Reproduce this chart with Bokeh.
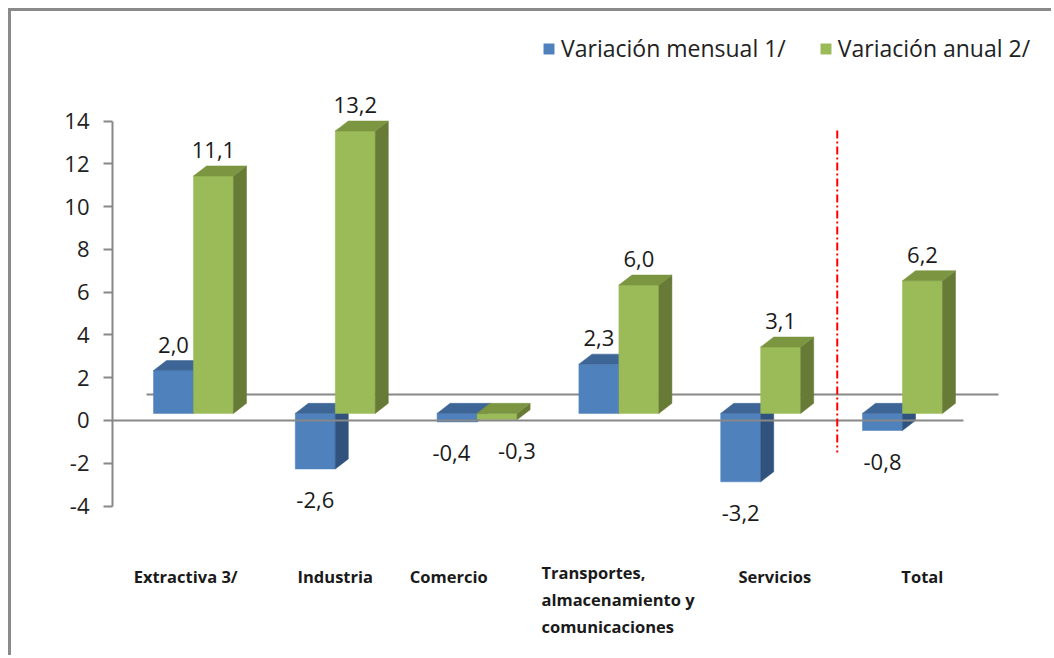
from bokeh.plotting import figure
from bokeh.models import Range1d, FixedTicker, Legend, LegendItem
from bokeh.embed import file_html
from bokeh.resources import INLINE
from bokeh.core.properties import value

# ---------------- data ----------------
categories = ["Extractiva  3/", "Industria", "Comercio",
              "Transportes,\nalmacenamiento y\ncomunicaciones", "Servicios", "Total"]
mensual = [2.0, -2.6, -0.4, 2.3, -3.2, -0.8]
anual = [11.1, 13.2, -0.3, 6.0, 3.1, 6.2]
series_names = ["Variación mensual 1/", "Variación anual 2/"]
y_ticks = [-4, -2, 0, 2, 4, 6, 8, 10, 12, 14]

# ---------------- style ----------------
FONT = "Open Sans"
BLUE_FRONT, BLUE_TOP, BLUE_SIDE = "#4F81BD", "#3D6596", "#31527C"
GREEN_FRONT, GREEN_TOP, GREEN_SIDE = "#9BBB59", "#7B9541", "#677B37"
AXIS_GRAY = "#888888"
BAR_W = 0.282       # category units
DX = 0.092          # 3D depth, x (category units)
DY = 0.47           # 3D depth, y (value units)
BASE = 0.33         # front face baseline (value units)
LABEL_UP = 1.22
LABEL_DOWN = 1.45
MENSUAL_LBL_DX = [0, 0, -0.04, 0, 0, 0]
ANUAL_LBL_DX = [0, 0, 0.14, 0, 0, 0]
CAT_SHIFT = [-0.04, 0.0, -0.2, -0.546, 0.1, 0.14]
CAT_LABEL_Y = -6.75
MULTI_LABEL_Y = -6.56

W, H = 1043, 647
p = figure(width=W, height=H, output_backend="svg", toolbar_location=None,
           x_range=Range1d(-0.571, 6.072), y_range=Range1d(-11.13, 19.12),
           min_border_left=101, min_border_right=0, min_border_top=0, min_border_bottom=0)
p.styles = {"margin-left": "8px", "margin-top": "8px",
            "border-top": "3px solid #8a8a8a", "border-left": "3px solid #8a8a8a"}
p.outline_line_color = None
p.xgrid.visible = False
p.ygrid.visible = False
p.xaxis.visible = False
p.background_fill_color = "white"
p.border_fill_color = "white"

ya = p.yaxis[0]
ya.ticker = FixedTicker(ticks=y_ticks)
ya.bounds = (min(y_ticks), max(y_ticks))
ya.major_label_overrides = {t: str(t) for t in y_ticks}
ya.axis_line_color = AXIS_GRAY
ya.axis_line_width = 2
ya.major_tick_line_color = AXIS_GRAY
ya.major_tick_line_width = 2
ya.major_tick_out = 9
ya.major_tick_in = 0
ya.minor_tick_line_color = None
ya.major_label_standoff = 14
ya.major_label_text_font = FONT
ya.major_label_text_font_size = "22px"
ya.major_label_text_color = "#222222"

n = len(categories)
xs_cat = list(range(n))

# back floor line (behind bars)
p.segment(x0=[-0.331], y0=[1.215], x1=[5.677], y1=[1.215], line_color=AXIS_GRAY, line_width=2)


def draw_bars(vals, offset, front, top, side):
    fx, fy, tx, ty, sx, sy = [], [], [], [], [], []
    for i, v in enumerate(vals):
        x0 = xs_cat[i] + offset
        x1 = x0 + BAR_W
        yt = max(BASE, BASE + v)
        yb = min(BASE, BASE + v)
        fx.append([x0, x1, x1, x0]); fy.append([yb, yb, yt, yt])
        tx.append([x0, x0 + DX, x1 + DX, x1]); ty.append([yt, yt + DY, yt + DY, yt])
        sx.append([x1, x1 + DX, x1 + DX, x1]); sy.append([yb, yb + DY, yt + DY, yt])
    r = p.patches(fx, fy, fill_color=front, line_color=front, line_width=0.5)
    p.patches(sx, sy, fill_color=side, line_color=side, line_width=0.5)
    p.patches(tx, ty, fill_color=top, line_color=top, line_width=0.5)
    return r


rb = draw_bars(mensual, -BAR_W, BLUE_FRONT, BLUE_TOP, BLUE_SIDE)
rg = draw_bars(anual, 0.0, GREEN_FRONT, GREEN_TOP, GREEN_SIDE)

# front zero line (over bars)
p.segment(x0=[-0.571], y0=[0], x1=[5.43], y1=[0], line_color=AXIS_GRAY, line_width=2)

# red separator
p.segment(x0=[4.54], y0=[13.56], x1=[4.54], y1=[-1.5], line_color="#FF0000",
          line_width=2, line_dash="8 3 2 3")


def fmt(v):
    return f"{v:.1f}".replace(".", ",")


for vals, off, ldx in ((mensual, -BAR_W / 2, MENSUAL_LBL_DX), (anual, BAR_W / 2, ANUAL_LBL_DX)):
    lx = [xs_cat[i] + off + ldx[i] for i in range(n)]
    ly = [BASE + v + LABEL_UP if v >= 0 else BASE + v - LABEL_DOWN for v in vals]
    p.text(x=lx, y=ly, text=[fmt(v) for v in vals], text_align="center",
           text_baseline="middle", text_font=value(FONT), text_font_size="22px",
           text_color="#1a1a1a")

# category labels (single-line centred, multi-line left-aligned)
single = [i for i in range(n) if "\n" not in categories[i]]
multi = [i for i in range(n) if "\n" in categories[i]]
cat_style = dict(text_font=value(FONT), text_font_size="16.5px", text_font_style="bold",
                 text_color="#1a1a1a", text_line_height=1.18, text_baseline="top")
p.text(x=[xs_cat[i] + CAT_SHIFT[i] for i in single], y=[CAT_LABEL_Y] * len(single),
       text=[categories[i] for i in single], text_align="center", **cat_style)
p.text(x=[xs_cat[i] + CAT_SHIFT[i] for i in multi], y=[MULTI_LABEL_Y] * len(multi),
       text=[categories[i] for i in multi], text_align="left", **cat_style)

legend = Legend(items=[LegendItem(label=series_names[0], renderers=[rb]),
                       LegendItem(label=series_names[1], renderers=[rg])],
                orientation="horizontal", location=(430, 594))
legend.glyph_width = 13
legend.glyph_height = 13
legend.label_standoff = 6
legend.spacing = 33
legend.padding = 0
legend.margin = 0
legend.border_line_alpha = 0
legend.background_fill_alpha = 0
legend.label_text_font = FONT
legend.label_text_font_size = "23px"
legend.label_text_color = "#222222"
p.add_layout(legend)

open("out.html", "w").write(file_html(p, INLINE))
